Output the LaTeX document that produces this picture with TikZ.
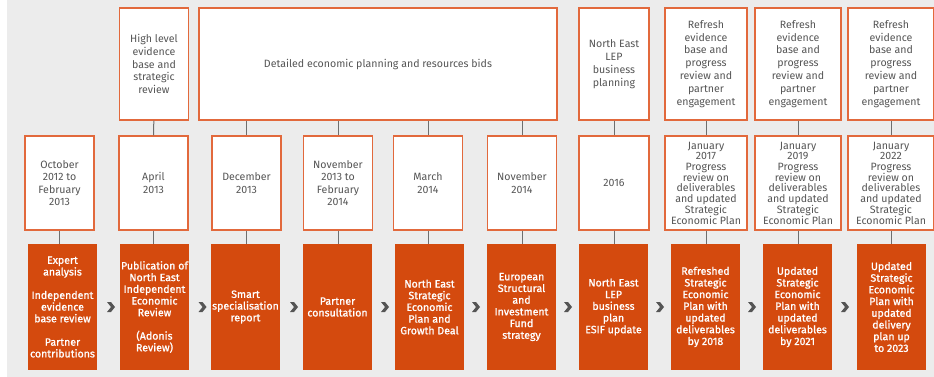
\documentclass[tikz,border=0pt]{standalone}
\usepackage{fontspec}
\setmainfont{Fira Sans}
\newfontfamily\medfont{Fira Sans}[FakeBold=1.1]
\usetikzlibrary{calc}

\definecolor{panelgrey}{HTML}{ECECEC}
\definecolor{rust}{HTML}{D44A0E}
\definecolor{rustline}{HTML}{E2693C}
\definecolor{textgrey}{HTML}{555555}
\definecolor{stemgrey}{HTML}{6E6E6E}

\begin{document}
\begin{tikzpicture}[x=1pt, y=-1pt,
    tbox/.style={draw=rustline, line width=1.3pt, fill=white, text=textgrey, align=center, inner sep=0pt, minimum height=112, font=\fontsize{10.6}{12.9}\selectfont},
    dbox/.style={draw=rustline, line width=1.3pt, fill=white, text=textgrey, align=center, inner sep=0pt, minimum height=94, minimum width=69, font=\fontsize{10.6}{12.6}\selectfont},
    obox/.style={fill=rust, text=white, align=center, inner sep=0pt, minimum height=126, minimum width=69, font=\medfont\fontsize{10.6}{11.7}\selectfont},
    stem/.style={draw=stemgrey, line width=1pt},
    chev/.pic={\fill[textgrey] (-3.5,-5) -- (0.5,-5) -- (4.5,0) -- (0.5,5) -- (-3.5,5) -- (0.5,0) -- cycle;}]
    \useasboundingbox (0,0) rectangle (934,377);
    \fill[panelgrey] (7,0) rectangle (934,376.5);

    % top row
    \node[tbox, minimum width=69] (t2) at (154,64) {High level\\evidence\\base and\\strategic\\review};
    \node[tbox, minimum width=358] (w) at (378,64) {Detailed economic planning and resources bids};
    \node[tbox, minimum width=70] (t7) at (614,64) {North East\\LEP\\business\\planning};
    \node[tbox, minimum width=82] (t8) at (706,64) {Refresh\\evidence\\base and\\progress\\review and\\partner\\engagement};
    \node[tbox, minimum width=86] (t9) at (798,64) {Refresh\\evidence\\base and\\progress\\review and\\partner\\engagement};
    \node[tbox, minimum width=86] (t10) at (891,64) {Refresh\\evidence\\base and\\progress\\review and\\partner\\engagement};

    % dates
    \node[dbox] (d1) at (59.5,183) {October\\2012 to\\February\\2013};
    \node[dbox] (d2) at (153.5,183) {April\\2013};
    \node[dbox] (d3) at (246.5,183) {December\\2013};
    \node[dbox] (d4) at (338,183) {November\\2013 to\\February\\2014};
    \node[dbox] (d5) at (428,183) {March\\2014};
    \node[dbox] (d6) at (522,183) {November\\2014};
    \node[dbox, minimum width=70] (d7) at (614,183) {2016};
    \node[dbox, minimum width=82, font=\fontsize{10.6}{10.7}\selectfont] (d8) at (706,183) {January\\2017\\Progress\\review on\\deliverables\\and updated\\Strategic\\Economic Plan};
    \node[dbox, minimum width=86, font=\fontsize{10.6}{10.7}\selectfont] (d9) at (798,183) {January\\2019\\Progress\\review on\\deliverables\\and updated\\Strategic\\Economic Plan};
    \node[dbox, minimum width=86, font=\fontsize{10.6}{10.7}\selectfont] (d10) at (891,183) {January\\2022\\Progress\\review on\\deliverables\\and updated\\Strategic\\Economic Plan};

    % outputs
    \node[obox] (o1) at (62.5,307) {Expert\\analysis\\[11.7pt]Independent\\evidence\\base review\\[11.7pt]Partner\\contributions};
    \node[obox] (o2) at (154.5,307) {Publication of\\North East\\Independent\\Economic\\Review\\[11.7pt](Adonis\\Review)};
    \node[obox] (o3) at (245.5,307) {Smart\\specialisation\\report};
    \node[obox] (o4) at (337.5,307) {Partner\\consultation};
    \node[obox] (o5) at (429.5,307) {North East\\Strategic\\Economic\\Plan and\\Growth Deal};
    \node[obox] (o6) at (521.5,307) {European\\Structural\\and\\Investment\\Fund\\strategy};
    \node[obox] (o7) at (613.5,307) {North East\\LEP\\business\\plan\\ESIF update};
    \node[obox] (o8) at (705.5,307) {Refreshed\\Strategic\\Economic\\Plan with\\updated\\deliverables\\by 2018};
    \node[obox] (o9) at (797.5,307) {Updated\\Strategic\\Economic\\Plan with\\updated\\deliverables\\by 2021};
    \node[obox] (o10) at (891.5,307) {Updated\\Strategic\\Economic\\Plan with\\updated\\delivery\\plan up\\to 2023};

    % stems
    \draw[stem] (t2) -- (d2);
    \draw[stem] (d3 |- w.south) -- (d3);
    \draw[stem] (d4 |- w.south) -- (d4);
    \draw[stem] (d5 |- w.south) -- (d5);
    \draw[stem] (d6 |- w.south) -- (d6);
    \draw[stem] (t7) -- (d7);
    \draw[stem] (t8) -- (d8);
    \draw[stem] (t9) -- (d9);
    \draw[stem] (t10) -- (d10);
    \draw[stem] (d1) -- (d1 |- o1.north);
    \draw[stem] (d2) -- (d2 |- o2.north);
    \draw[stem] (d3) -- (d3 |- o3.north);
    \draw[stem] (d4) -- (d4 |- o4.north);
    \draw[stem] (d5) -- (d5 |- o5.north);
    \draw[stem] (d6) -- (d6 |- o6.north);
    \draw[stem] (d7) -- (d7 |- o7.north);
    \draw[stem] (d8) -- (d8 |- o8.north);
    \draw[stem] (d9) -- (d9 |- o9.north);
    \draw[stem] (d10) -- (d10 |- o10.north);

    % chevrons between the outputs
    \path ($(o1.east)!0.5!(o2.west)$) ++(2,0) pic {chev};
    \path ($(o2.east)!0.5!(o3.west)$) ++(2,0) pic {chev};
    \path ($(o3.east)!0.5!(o4.west)$) ++(2,0) pic {chev};
    \path ($(o4.east)!0.5!(o5.west)$) ++(1,0) pic {chev};
    \path ($(o5.east)!0.5!(o6.west)$) pic {chev};
    \path ($(o6.east)!0.5!(o7.west)$) pic {chev};
    \path ($(o7.east)!0.5!(o8.west)$) pic {chev};
    \path ($(o8.east)!0.5!(o9.west)$) pic {chev};
    \path ($(o9.east)!0.5!(o10.west)$) pic {chev};
\end{tikzpicture}
\end{document}
